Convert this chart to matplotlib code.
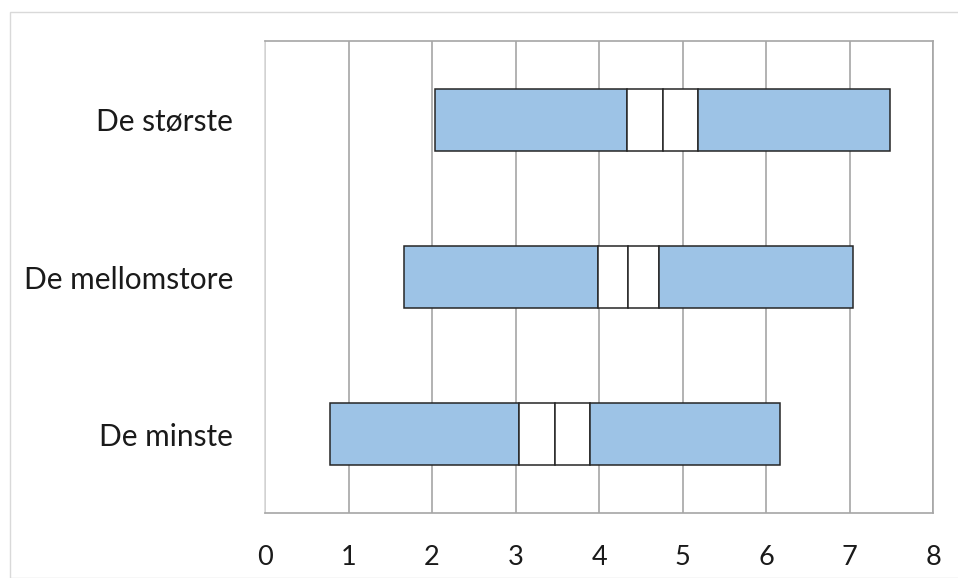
import matplotlib
matplotlib.use("Agg")
import matplotlib.pyplot as plt
from matplotlib.patches import Rectangle

# ---------- Data ----------
categories = ["De minste", "De mellomstore", "De største"]
minimum = [0.78, 1.66, 2.03]
q1 = [3.04, 3.99, 4.33]
median = [3.47, 4.35, 4.76]
q3 = [3.89, 4.72, 5.18]
maximum = [6.16, 7.04, 7.48]
x_ticks = [0, 1, 2, 3, 4, 5, 6, 7, 8]

blue = "#9DC3E6"
edge = "#262626"
grid_gray = "#A6A6A6"

plt.rcParams["font.family"] = ["Lato", "DejaVu Sans"]

W, H = 958, 578
fig = plt.figure(figsize=(W / 100, H / 100), dpi=100)
ax = fig.add_axes([265 / W, (H - 512.7) / H, (933.3 - 265) / W, (512.7 - 41.3) / H])

# outer chart-area border
fig.patches.append(Rectangle((10 / W, 0), 1, (H - 12) / H, transform=fig.transFigure,
                             fill=False, edgecolor="#D9D9D9", linewidth=1.0))

# ---------- Draw ----------
y = list(range(len(categories)))
h = 0.395
segments = [
    (minimum, q1, blue),
    (q1, median, "white"),
    (median, q3, "white"),
    (q3, maximum, blue),
]
for lo, hi, color in segments:
    widths = [b - a for a, b in zip(lo, hi)]
    ax.barh(y, widths, left=lo, height=h, color=color,
            edgecolor=edge, linewidth=1.1, zorder=3)

# ---------- Style ----------
ax.set_xlim(0, 8)
ax.set_ylim(-0.5, 2.5)
ax.set_xticks(x_ticks)
ax.set_yticks(y)
ax.set_yticklabels(categories)
ax.tick_params(axis="both", length=0, colors="#1a1a1a")
ax.tick_params(axis="x", pad=23, labelsize=19.5)
ax.tick_params(axis="y", pad=23, labelsize=21.5)

ax.xaxis.grid(True, color=grid_gray, linewidth=1.2, zorder=0)
ax.set_axisbelow(True)
for side in ["top", "right", "bottom"]:
    ax.spines[side].set_color(grid_gray)
    ax.spines[side].set_linewidth(1.2)
ax.spines["left"].set_color("#D9D9D9")
ax.spines["left"].set_linewidth(1.2)

fig.savefig("out.png", dpi=100)
